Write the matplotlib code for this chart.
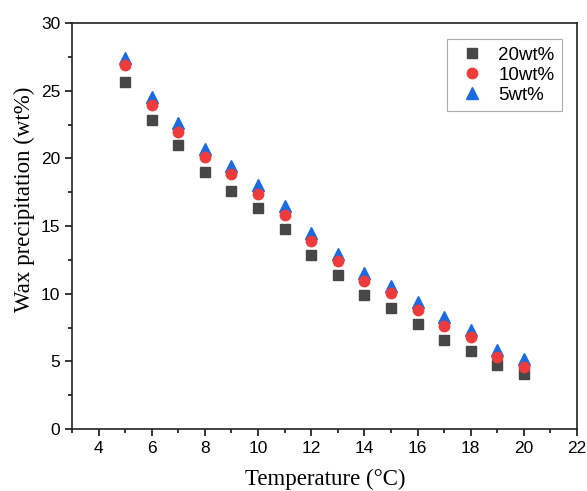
import matplotlib.pyplot as plt
from matplotlib.ticker import MultipleLocator

# data
temperature = [5, 6, 7, 8, 9, 10, 11, 12, 13, 14, 15, 16, 17, 18, 19, 20]
wax_20 = [25.65, 22.86, 20.97, 19.02, 17.59, 16.31, 14.78, 12.84, 11.38, 9.90, 8.97, 7.76, 6.60, 5.76, 4.73, 4.06]
wax_10 = [26.90, 23.95, 21.97, 20.08, 18.82, 17.37, 15.82, 13.90, 12.42, 10.96, 10.03, 8.80, 7.64, 6.82, 5.30, 4.60]
wax_5 = [27.45, 24.55, 22.60, 20.70, 19.45, 18.00, 16.50, 14.45, 12.95, 11.50, 10.55, 9.35, 8.25, 7.30, 5.85, 5.20]
series_labels = ['20wt%', '10wt%', '5wt%']

fig = plt.figure(figsize=(5.87, 4.91), dpi=100)
ax = fig.add_axes([72/587, 1 - 429/491, (577-72)/587, (429-23)/491])

ax.plot(temperature, wax_20, 's', color='#474747', ms=7, label=series_labels[0], zorder=3)
ax.plot(temperature, wax_10, 'o', color='#ef3b3b', ms=7.5, label=series_labels[1], zorder=3)
ax.plot(temperature, wax_5, '^', color='#1b6ae0', ms=8.5, label=series_labels[2], zorder=2)

ax.set_xlim(3, 22)
ax.set_ylim(0, 30)
ax.xaxis.set_major_locator(MultipleLocator(2))
ax.xaxis.set_minor_locator(MultipleLocator(1))
ax.yaxis.set_major_locator(MultipleLocator(5))
ax.yaxis.set_minor_locator(MultipleLocator(2.5))

ax.tick_params(which='major', direction='out', length=5, width=1.1, labelsize=12.5)
ax.tick_params(which='minor', direction='out', length=3, width=1.1)
for lbl in ax.get_xticklabels() + ax.get_yticklabels():
    lbl.set_fontfamily('Liberation Sans')
for s in ax.spines.values():
    s.set_linewidth(1.2)
    s.set_color('#222222')

ax.set_xlabel('Temperature (°C)', fontfamily='Liberation Serif', fontsize=16.5)
ax.set_ylabel('Wax precipitation (wt%)', fontfamily='Liberation Serif', fontsize=16.5)
ax.xaxis.set_label_coords((325 - 72) / 505, -(485 - 429) / 406)
ax.xaxis.label.set_va('baseline')
ax.yaxis.set_label_coords(-(72 - 35) / 505, (429 - 199) / 406)

leg = ax.legend(loc='upper right', bbox_to_anchor=((562 - 72) / 505, (429 - 39) / 406),
                borderaxespad=0, fancybox=False,
                prop={'family': 'Liberation Sans', 'size': 13.5}, handlelength=1.87,
                handletextpad=0.45, labelspacing=0.15, borderpad=0.4)
leg.get_frame().set_edgecolor('#999999')
leg.get_frame().set_linewidth(0.8)

fig.savefig('out.png', dpi=100)
